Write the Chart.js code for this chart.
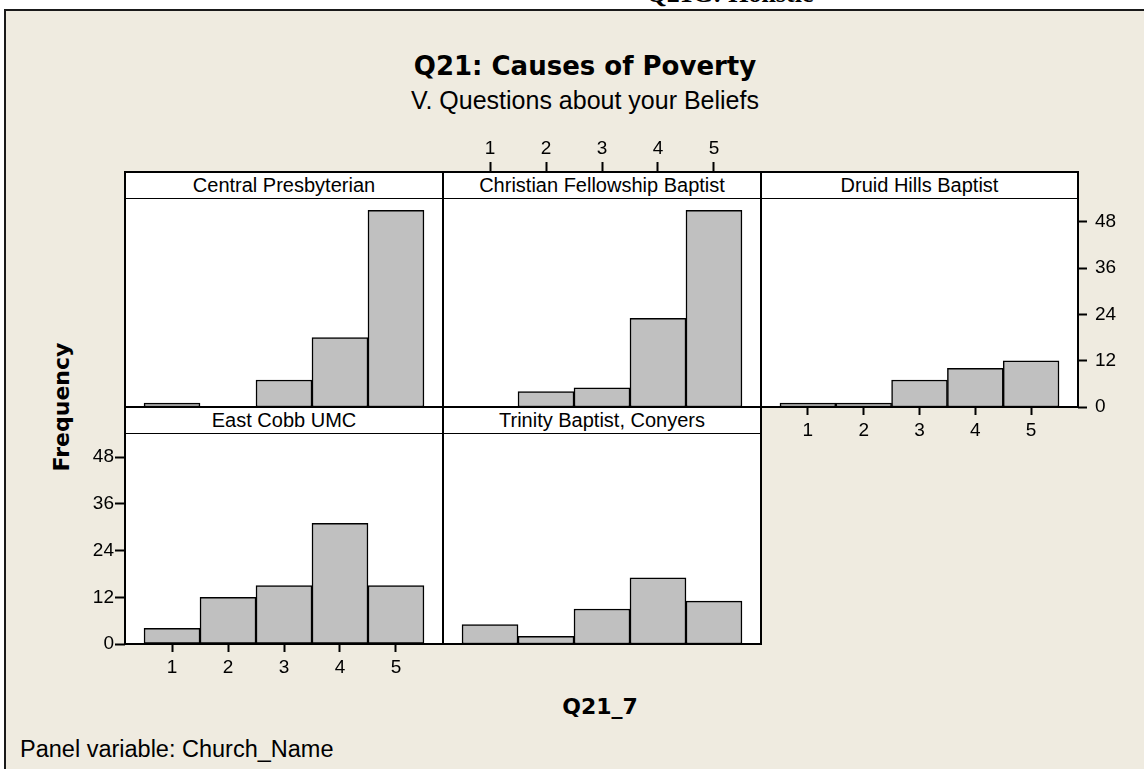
<!DOCTYPE html>
<html>
<head>
<meta charset="utf-8">
<script src="https://cdn.jsdelivr.net/npm/chart.js@4.4.1/dist/chart.umd.min.js"></script>
<style>
  html, body { margin:0; padding:0; width:1144px; height:769px; overflow:hidden; background:#fff; }
  body { position:relative; font-family: "Liberation Sans", Arial, sans-serif; color:#000; }
  #frame { position:absolute; left:4px; top:9px; width:1160px; height:800px; border-top:2px solid #1a1a1a; border-left:2px solid #1a1a1a; background:#EFEBE0; box-sizing:border-box; }
  .txt { position:absolute; white-space:nowrap; line-height:1; }
  .bold { font-family: "DejaVu Sans", sans-serif; font-weight:bold; }
  .panelbg { position:absolute; background:#fff; }
  .strip { position:absolute; background:#fff; text-align:center; font-size:20px; box-sizing:border-box; border-bottom:1.5px solid #000; z-index:3; display:flex; align-items:center; justify-content:center; }
  .box { position:absolute; border:2px solid #000; box-sizing:border-box; z-index:4; pointer-events:none; }
  canvas { position:absolute; z-index:2; }
</style>
</head>
<body>
<div class="txt" id="topTitle" style="font-family:'Liberation Serif',serif;font-weight:bold;font-size:26px;left:730px;top:-19px;transform:translateX(-50%);">Q21G: Holistic</div>
<div id="frame"></div>
<div class="txt bold" style="font-size:26px;left:585px;top:66px;transform:translate(-50%,-50%);">Q21: Causes of Poverty</div>
<div class="txt" style="font-size:25px;left:585px;top:100px;transform:translate(-50%,-50%);">V. Questions about your Beliefs</div>
<div class="txt bold" style="font-size:22px;left:62px;top:407px;transform:translate(-50%,-50%) rotate(-90deg);">Frequency</div>
<div class="txt bold" style="font-size:22px;left:600px;top:707px;transform:translate(-50%,-50%);">Q21_7</div>
<div class="txt" style="font-size:23.5px;left:20px;top:750px;transform:translate(0,-50%);">Panel variable: Church_Name</div>

<script>
// ---- Data ----
const categories = [1, 2, 3, 4, 5];
const panelNames = ["Central Presbyterian", "Christian Fellowship Baptist", "Druid Hills Baptist", "East Cobb UMC", "Trinity Baptist, Conyers"];
const centralPresbyterian = [1, 0, 7, 18, 51];
const christianFellowship = [0, 4, 5, 23, 51];
const druidHills = [1, 1, 7, 10, 12];
const eastCobb = [4, 12, 15, 31, 15];
const trinityConyers = [5, 2, 9, 17, 11];
const yTickValues = [0, 12, 24, 36, 48];
const xTickValues = [1, 2, 3, 4, 5];

// ---- Layout ----
const colX = [125, 443, 761, 1078];
const rows = [ {top:172, strip:198, bottom:407}, {top:407, strip:433, bottom:644} ];
const X_MIN = 0.16, X_MAX = 5.84, Y_MAX = 54.2;
const TICK_FONT = { family: "'Liberation Sans', Arial, sans-serif", size: 19 };

function fixedSize(w, h) {
  return function(scale) {
    if (w !== null) scale.width = w;
    if (h !== null) scale.height = h;
    scale.paddingLeft = scale.paddingRight = scale.paddingTop = scale.paddingBottom = 0;
  };
}

function makePanel(name, values, col, row, axes) {
  const r = rows[row];
  const L = colX[col], R = colX[col+1], T = r.strip, B = r.bottom;
  const leftW = axes.left ? 60 : 0, rightW = axes.right ? 60 : 0;
  const topH = axes.top ? 70 : 0, botH = axes.bottom ? 44 : 0;

  const bg = document.createElement('div');
  bg.className = 'panelbg';
  Object.assign(bg.style, {left: L+'px', top: r.top+'px', width: (R-L)+'px', height: (B-r.top)+'px'});
  document.body.appendChild(bg);

  const st = document.createElement('div');
  st.className = 'strip';
  st.textContent = name;
  Object.assign(st.style, {left: L+'px', top: r.top+'px', width: (R-L)+'px', height: (r.strip - r.top + 1)+'px'});
  document.body.appendChild(st);

  const bx = document.createElement('div');
  bx.className = 'box';
  Object.assign(bx.style, {left: (L-1)+'px', top: (r.top-1)+'px', width: (R-L+2)+'px', height: (B-r.top+2)+'px'});
  document.body.appendChild(bx);

  const cv = document.createElement('canvas');
  const cw = (R-L) + leftW + rightW, ch = (B-T) + topH + botH;
  cv.width = cw; cv.height = ch;
  Object.assign(cv.style, {left: (L-leftW)+'px', top: (T-topH)+'px', width: cw+'px', height: ch+'px'});
  document.body.appendChild(cv);

  const xAxisBase = {
    type: 'linear', min: X_MIN, max: X_MAX, offset: false,
    afterBuildTicks: s => { s.ticks = xTickValues.map(v => ({value: v})); },
    ticks: { color:'#000', font: TICK_FONT, maxRotation:0, autoSkip:false, padding: 4 },
    grid: { display:true, drawOnChartArea:false, drawTicks:true, tickLength: 8, tickWidth: 2, tickColor:'#000', offset:false },
    border: { display:false }
  };
  const scales = {
    x: Object.assign({}, xAxisBase, { display: !!axes.bottom, position:'bottom', afterFit: fixedSize(null, botH) }),
    y: {
      type:'linear', min:0, max:Y_MAX, display: !!axes.left, position:'left',
      afterBuildTicks: s => { s.ticks = yTickValues.map(v => ({value: v})); },
      afterFit: fixedSize(leftW, null),
      ticks: { color:'#000', font: TICK_FONT, padding: 1 },
      grid: { display:true, drawOnChartArea:false, drawTicks:true, tickLength: 10, tickWidth: 2, tickColor:'#000' },
      border: { display:false }
    }
  };
  if (axes.top) {
    scales.xTop = Object.assign({}, xAxisBase, {
      display:true, position:'top', afterFit: fixedSize(null, topH),
      ticks: { color:'#000', font: TICK_FONT, maxRotation:0, autoSkip:false, padding: 2 },
      grid: { display:true, drawOnChartArea:false, drawTicks:true, tickLength: 36, tickWidth: 2, tickColor:'#000', offset:false }
    });
  }
  if (axes.right) {
    scales.yRight = {
      type:'linear', min:0, max:Y_MAX, display:true, position:'right',
      afterBuildTicks: s => { s.ticks = yTickValues.map(v => ({value: v})); },
      afterFit: fixedSize(rightW, null),
      ticks: { color:'#000', font: TICK_FONT, padding: 8 },
      grid: { display:true, drawOnChartArea:false, drawTicks:true, tickLength: 9, tickWidth: 2, tickColor:'#000' },
      border: { display:false }
    };
  }

  new Chart(cv.getContext('2d'), {
    type: 'bar',
    data: {
      datasets: [{
        label: name,
        data: categories.map((c, i) => ({x: c, y: values[i]})),
        backgroundColor: '#C0C0C0',
        borderColor: '#000',
        borderWidth: 1.5,
        borderSkipped: false,
        barPercentage: 1.0,
        categoryPercentage: 1.0
      }]
    },
    options: {
      responsive: false, animation: false, devicePixelRatio: 1,
      layout: { padding: 0 },
      plugins: { legend: {display:false}, tooltip: {enabled:false}, title: {display:false} },
      scales: scales
    }
  });
}

makePanel(panelNames[0], centralPresbyterian, 0, 0, {});
makePanel(panelNames[1], christianFellowship, 1, 0, {top:true});
makePanel(panelNames[2], druidHills, 2, 0, {right:true, bottom:true});
makePanel(panelNames[3], eastCobb, 0, 1, {left:true, bottom:true});
makePanel(panelNames[4], trinityConyers, 1, 1, {});
</script>
</body>
</html>
